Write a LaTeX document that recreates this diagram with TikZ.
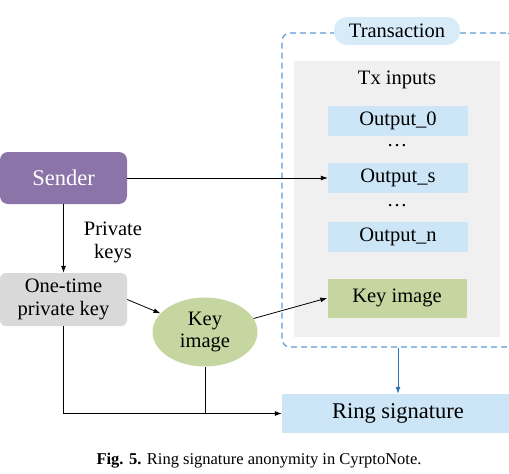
\documentclass[tikz,border=0pt]{standalone}
\usepackage{fontspec}
\setmainfont{Liberation Serif}
\usetikzlibrary{arrows.meta,shapes.geometric}

\definecolor{senderpurple}{HTML}{8B74A8}
\definecolor{keygray}{HTML}{D9D9D9}
\definecolor{keygreen}{HTML}{C5D6A0}
\definecolor{outblue}{HTML}{CDE6F7}
\definecolor{txgray}{HTML}{F0F0F0}
\definecolor{dashblue}{HTML}{5B9BD5}
\definecolor{arrowblue}{HTML}{2E75B6}

\tikzset{
  txt/.style={inner sep=0pt, align=center, font=\fontsize{20.5}{23}\selectfont},
  bigtxt/.style={inner sep=0pt, align=center, font=\fontsize{22.5}{26}\selectfont},
  outbox/.style={txt, fill=outblue, minimum width=140pt, minimum height=30pt},
  arrow/.style={line width=0.8pt, -{Latex[length=7pt,width=5pt]}}
}

\begin{document}
\begin{tikzpicture}[x=1pt,y=-1pt]
        \useasboundingbox (0,0) rectangle (509,474);

        % transaction frame
        \node[draw=dashblue, line width=1.2pt, dash pattern=on 6pt off 4pt, rounded corners=8pt,
              minimum width=232pt, minimum height=314pt, inner sep=0pt] (txbox) at (398,190) {};
        \node[fill=txgray, minimum width=206pt, minimum height=276pt, inner sep=0pt] (inputs) at (397,199) {};
        \node[txt, fill=outblue!80!white, rounded corners=13pt, minimum width=126pt, minimum height=28pt] (txlabel) at (397,31) {Transaction};

        \node[txt] (txin) at (397,80) {Tx inputs};
        \node[outbox] (out0) at (398,121) {Output\_0};
        \node[txt] (dots1) at (397,146) {\ldots};
        \node[outbox] (outs) at (398,178) {Output\_s};
        \node[txt] (dots2) at (397,206) {\ldots};
        \node[outbox] (outn) at (398,237) {Output\_n};
        \node[txt, fill=keygreen, minimum width=139pt, minimum height=39pt] (kibox) at (397,298) {Key image};

        % sender side
        \node[bigtxt, text=white, fill=senderpurple, rounded corners=8pt, minimum width=127pt, minimum height=52pt] (sender) at (63.5,178) {Sender};
        \node[txt] (privkeys) at (113,242) {Private\\keys};
        \node[txt, fill=keygray, rounded corners=6pt, minimum width=127pt, minimum height=53pt] (onetime) at (63.5,299.5) {One-time\\private key};
        \node[txt, ellipse, fill=keygreen, minimum width=105pt, minimum height=69pt, font=\fontsize{20.5}{22}\selectfont] (keyimg) at (205,332) {Key\\image};
        \node[bigtxt, fill=outblue, minimum width=232pt, minimum height=39pt] (ring) at (398,413.5) {Ring signature};

        \node[inner sep=0pt, font=\fontsize{16.5}{19}\selectfont] (caption) at (259,461) {\textbf{Fig. 5.} Ring signature anonymity in CyrptoNote.};

        % connectors
        \draw[arrow] (sender.east) -- (outs.west);
        \draw[arrow] (sender.south) -- (onetime.north);
        \draw[arrow] (onetime.east) -- (keyimg);
        \draw[arrow] (keyimg) -- (kibox.west);
        \draw[arrow] (onetime.south) |- (ring.west);
        \draw[line width=0.8pt] (keyimg.south) -- (keyimg.south |- ring.west);
        \draw[arrow, draw=arrowblue, fill=arrowblue] (txbox.south) -- (ring.north);

\end{tikzpicture}
\end{document}
